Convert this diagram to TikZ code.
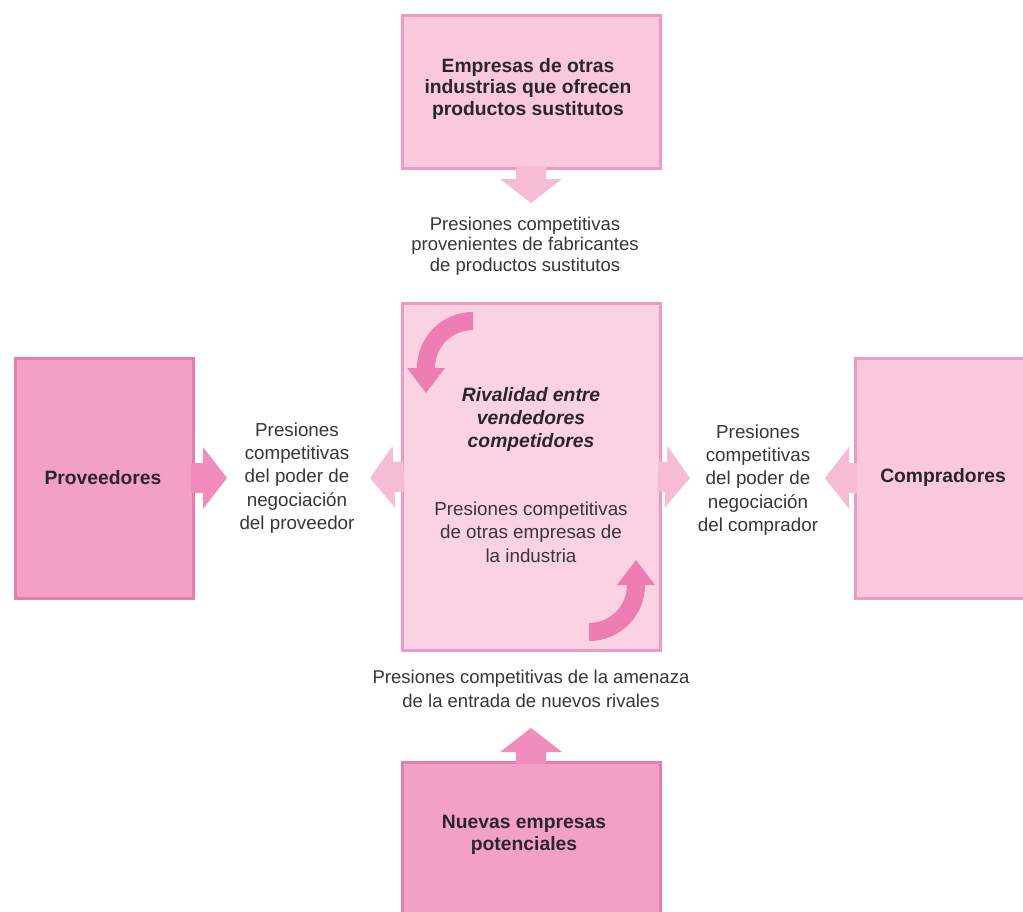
\documentclass[tikz,border=0pt]{standalone}
\usepackage{fontspec}
\setmainfont{Liberation Sans}
\usetikzlibrary{calc}
\definecolor{lightfill}{HTML}{F9C8DD}
\definecolor{centerfill}{HTML}{FAD2E4}
\definecolor{midfill}{HTML}{F3A0C6}
\definecolor{lightedge}{HTML}{EC9CC2}
\definecolor{midedge}{HTML}{E27FAD}
\definecolor{curvefill}{HTML}{EE7DB2}
\definecolor{lightarrow}{HTML}{F6BCD6}
\definecolor{midarrow}{HTML}{F08DBC}
\definecolor{txt}{HTML}{2A2530}
\definecolor{graytxt}{HTML}{3A3538}

\tikzset{
  box/.style={draw, line width=3pt, inner sep=0pt, outer sep=0pt},
  lightbox/.style={box, fill=lightfill, draw=lightedge},
  centerbox/.style={box, fill=centerfill, draw=lightedge},
  midbox/.style={box, fill=midfill, draw=midedge},
  boldtext/.style={font=\fontsize{19.3}{21.8}\selectfont\bfseries, text=txt, align=center, inner sep=0pt},
  bolditext/.style={font=\fontsize{19.3}{23}\selectfont\bfseries\itshape, text=txt, align=center, inner sep=0pt},
  plaintext/.style={font=\fontsize{18.8}{23.3}\selectfont, text=graytxt, align=center, inner sep=0pt},
  tighttext/.style={font=\fontsize{18.5}{20.5}\selectfont, text=graytxt, align=center, inner sep=0pt}
}

\newcommand{\blockarrow}[3]{%
  \coordinate (ba-h) at ($(#2)!24pt!(#1)$);
  \fill[#3] ($(#1)!15pt!90:(#2)$) -- ($(ba-h)!15pt!-90:(#1)$) -- ($(ba-h)!31pt!-90:(#1)$)
    -- (#2) -- ($(ba-h)!31pt!90:(#1)$) -- ($(ba-h)!15pt!90:(#1)$) -- ($(#1)!15pt!-90:(#2)$) -- cycle;}

\newcommand{\rivalarrow}{%
  \fill[curvefill] (473,312) .. controls (442,312) and (417,337) .. (417,368)
    -- (407,368) -- (426,393) -- (445,368) -- (435,368)
    .. controls (435,347) and (452,330) .. (473,330) -- cycle;}

\begin{document}
\begin{tikzpicture}[x=1pt,y=-1pt]
\path[use as bounding box, clip] (0,0) rectangle (1023,911);
\fill[white] (0,0) rectangle (1023,911);

% boxes
\node[lightbox, minimum width=258pt, minimum height=153pt] (topbox) at (531,91.5) {};
\node[centerbox, minimum width=258pt, minimum height=347pt] (centerbox) at (531,476.5) {};
\node[midbox, minimum width=178pt, minimum height=240pt] (leftbox) at (104,478) {};
\node[lightbox, minimum width=176pt, minimum height=240pt] (rightbox) at (943,478) {};
\node[midbox, minimum width=258pt, minimum height=160pt] (bottombox) at (531,842) {};

% box texts
\node[boldtext] (toptext) at (528,89) {Empresas de otras\\industrias que ofrecen\\productos sustitutos};
\node[boldtext] (lefttext) at (103,478) {Proveedores};
\node[boldtext] (righttext) at (943,478) {Compradores};
\node[boldtext] (bottomtext) at (524,835) {Nuevas empresas\\potenciales};
\node[bolditext] (rivaltext) at (531,420) {Rivalidad entre\\vendedores\\competidores};
\node[plaintext] (rivalsub) at (531,532) {Presiones competitivas\\de otras empresas de\\la industria};

% pressure labels
\node[tighttext] (substlabel) at (525,246) {Presiones competitivas\\provenientes de fabricantes\\de productos sustitutos};
\node[plaintext] (provlabel) at (297,478) {Presiones\\competitivas\\del poder de\\negociaci\'on\\del proveedor};
\node[plaintext] (complabel) at (758,480) {Presiones\\competitivas\\del poder de\\negociaci\'on\\del comprador};
\node[tighttext, font=\fontsize{18.5}{24}\selectfont] (newlabel) at (531,689) {Presiones competitivas de la amenaza\\de la entrada de nuevos rivales};

% arrow ends
\coordinate (a1s) at ($(topbox.south)+(0,-2)$);
\coordinate (a1t) at (531,203);
\coordinate (a2s) at ($(bottombox.north)+(0,2)$);
\coordinate (a2t) at (531,728);
\coordinate (a3s) at ($(leftbox.east)+(-2,0)$);
\coordinate (a3t) at (227,478);
\coordinate (a4s) at ($(centerbox.west)+(2,0)$);
\coordinate (a4t) at (370,478);
\coordinate (a5s) at ($(centerbox.east)+(-2,0)$);
\coordinate (a5t) at (690,478);
\coordinate (a6s) at ($(rightbox.west)+(2,0)$);
\coordinate (a6t) at (825,478);

\blockarrow{a1s}{a1t}{lightarrow}
\blockarrow{a2s}{a2t}{midarrow}
\blockarrow{a3s}{a3t}{midarrow}
\blockarrow{a4s}{a4t}{lightarrow}
\blockarrow{a5s}{a5t}{lightarrow}
\blockarrow{a6s}{a6t}{lightarrow}

% rivalry curved arrows
\rivalarrow
\begin{scope}[rotate around={180:(531,476.5)}]
\rivalarrow
\end{scope}
\end{tikzpicture}
\end{document}
